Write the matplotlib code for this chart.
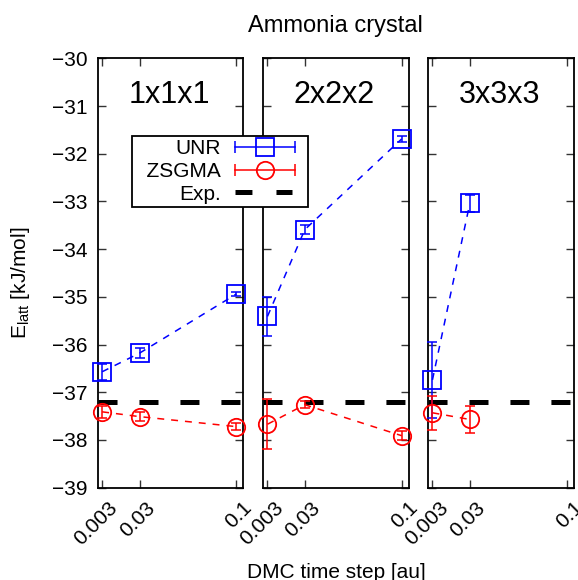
import matplotlib
matplotlib.use('Agg')
import matplotlib.pyplot as plt
import numpy as np
from matplotlib.lines import Line2D
from matplotlib.legend_handler import HandlerLine2D
from matplotlib.transforms import ScaledTranslation

plt.rcParams['font.family'] = ['Liberation Sans', 'DejaVu Sans']
plt.rcParams['mathtext.fontset'] = 'custom'
plt.rcParams['mathtext.rm'] = 'Liberation Sans'
plt.rcParams['mathtext.it'] = 'Liberation Sans:italic'
plt.rcParams['lines.scale_dashes'] = False

# ---------------- data ----------------
timesteps = [0.003, 0.03, 0.1]
cells = ['1x1x1', '2x2x2', '3x3x3']
unr_vals = [[-36.57, -36.18, -34.94], [-35.41, -33.59, -31.69], [-36.74, -33.04]]
unr_errs = [[0.17, 0.10, 0.04], [0.41, 0.09, 0.06], [0.80, 0.18]]
zsgma_vals = [[-37.41, -37.51, -37.72], [-37.67, -37.26, -37.91], [-37.43, -37.57]]
zsgma_errs = [[0.12, 0.10, 0.08], [0.52, 0.07, 0.09], [0.36, 0.29]]
exp_val = -37.2
xtick_labels = ['0.003', '0.03', '0.1']
yticks = list(range(-39, -29))
series_names = ['UNR', 'ZSGMA', 'Exp.']

W, H = 578, 580
fig = plt.figure(figsize=(W / 100, H / 100), dpi=100)

lefts_px = [98.0, 263.3, 428.3]
pw = 145.3
top_px, bot_px = 58.3, 487.7

blue = '#0000ff'
red = '#ff0000'
line_dash = (0, (5, 5))
exp_dash = (0, (13.7, 15.8))

for i, lp in enumerate(lefts_px):
    ax = fig.add_axes([lp / W, 1 - bot_px / H, pw / W, (bot_px - top_px) / H])
    n = len(unr_vals[i])
    xs = timesteps[:n]
    ax.axhline(exp_val, color='k', lw=3.6, ls=exp_dash, zorder=1)
    for vals, errs, col, mk in [(unr_vals[i], unr_errs[i], blue, 's'),
                                (zsgma_vals[i], zsgma_errs[i], red, 'o')]:
        ax.errorbar(xs, vals, yerr=errs, fmt='none', ecolor=col, elinewidth=1.1,
                    capsize=3.5, capthick=1.1, clip_on=False, zorder=3)
        ax.plot(xs, vals, ls=line_dash, lw=1.1, color=col, marker=mk, ms=12.5,
                mfc='none', mec=col, mew=1.3, clip_on=False, zorder=4)
    ax.set_xlim(0, 0.105)
    ax.set_ylim(-39, -30)
    ax.set_xticks(timesteps)
    ax.set_xticklabels(xtick_labels, rotation=45, ha='right', va='top', fontsize=15)
    ax.set_yticks(yticks)
    if i == 0:
        ax.set_yticklabels([str(v).replace('-', '\u2212') for v in yticks], fontsize=15)
    else:
        ax.set_yticklabels([])
    ax.tick_params(axis='both', direction='in', length=6, width=1.0, top=True, right=True,
                   color='#333333')
    ax.tick_params(axis='x', pad=7.5)
    ax.tick_params(axis='y', pad=7.5)
    for lab in ax.get_xticklabels():
        lab.set_transform(lab.get_transform() + ScaledTranslation(0.195, 0, fig.dpi_scale_trans))
    for sp in ax.spines.values():
        sp.set_linewidth(1.3)
    ax.text(0.49, (bot_px - 102.7) / (bot_px - top_px), cells[i], transform=ax.transAxes,
            ha='center', va='baseline', fontsize=22)

fig.text(335.5 / W, 1 - 31.7 / H, 'Ammonia crystal', ha='center', va='baseline', fontsize=17)
fig.text(336 / W, 1 - 577.5 / H, 'DMC time step [au]', ha='center', va='baseline', fontsize=15)
fig.text(21 / W, 1 - 283 / H, r'E$_{\mathrm{latt}}$ [kJ/mol]', ha='center', va='center',
         rotation=90, fontsize=15)


class CapHandler(HandlerLine2D):
    def __init__(self, rpad, npts, **kw):
        super().__init__(numpoints=npts, **kw)
        self.rpad = rpad

    def get_xdata(self, legend, xdescent, ydescent, width, height, fontsize):
        w = width - self.rpad
        if self._numpoints > 1:
            xs = np.linspace(-xdescent, -xdescent + w, self._numpoints)
            return xs, xs
        return [-xdescent, -xdescent + w], [-xdescent + 0.5 * w]


rp = 7.2
unr_line = Line2D([], [], color=blue, lw=1.1, marker='|', ms=8, mew=1.1)
unr_mark = Line2D([], [], color=blue, ls='none', marker='s', ms=12.5, mfc='none', mew=1.3)
zs_line = Line2D([], [], color=red, lw=1.1, marker='|', ms=8, mew=1.1)
zs_mark = Line2D([], [], color=red, ls='none', marker='o', ms=12.5, mfc='none', mew=1.3)
exp_h = Line2D([], [], color='k', lw=3.6, ls=(0, (12.2, 17.3)))
hmap = {unr_line: CapHandler(rp, 2), unr_mark: CapHandler(rp, 1),
        zs_line: CapHandler(rp, 2), zs_mark: CapHandler(rp, 1),
        exp_h: CapHandler(9.4, 2)}
leg = fig.legend(handles=[(unr_line, unr_mark), (zs_line, zs_mark), exp_h],
                 labels=[series_names[0], '  ' + series_names[1], series_names[2]],
                 loc='upper left', bbox_to_anchor=(132 / W, 1 - 136 / H),
                 bbox_transform=fig.transFigure, borderaxespad=0, borderpad=0.15,
                 fontsize=15, markerfirst=False, handlelength=3.36, handletextpad=0.672,
                 labelspacing=0.18, fancybox=False, framealpha=1, edgecolor='k',
                 handler_map=hmap)
leg.get_frame().set_linewidth(1.3)

fig.savefig('out.png', dpi=100)
